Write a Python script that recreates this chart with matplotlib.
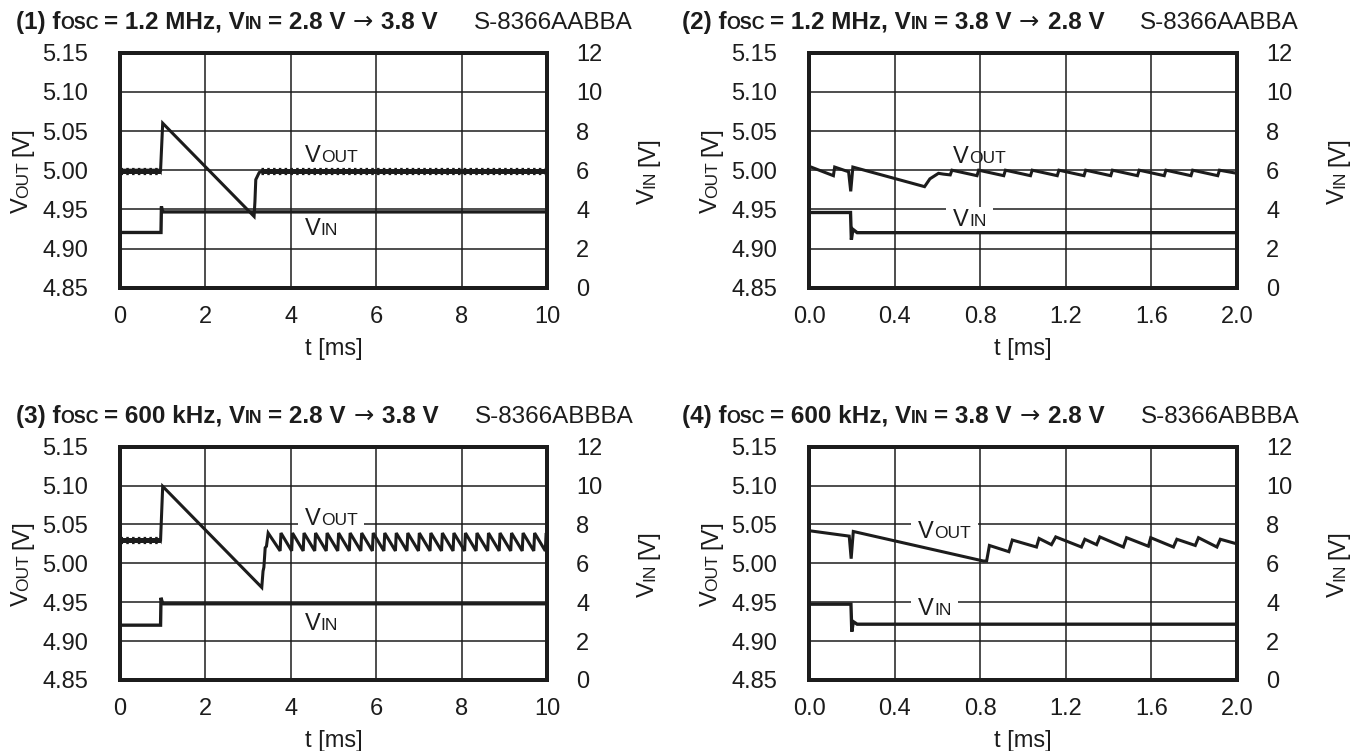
import matplotlib
matplotlib.use("Agg")
import matplotlib.pyplot as plt
from matplotlib import transforms
from matplotlib.patches import Rectangle

plt.rcParams["font.family"] = ["Liberation Sans", "DejaVu Sans"]

panel_no = ["(1)", "(2)", "(3)", "(4)"]
fosc = ["1.2 MHz", "1.2 MHz", "600 kHz", "600 kHz"]
vin_from = ["2.8 V", "3.8 V", "2.8 V", "3.8 V"]
vin_to = ["3.8 V", "2.8 V", "3.8 V", "2.8 V"]
part = ["S-8366AABBA", "S-8366AABBA", "S-8366ABBBA", "S-8366ABBBA"]

t_long = [0, 2, 4, 6, 8, 10]
t_short = [0.0, 0.4, 0.8, 1.2, 1.6, 2.0]
vout_ticks = [4.85, 4.90, 4.95, 5.00, 5.05, 5.10, 5.15]
vin_ticks = [0, 2, 4, 6, 8, 10, 12]

# (1) 1.2 MHz, 2.8 -> 3.8 V, 0..10 ms
t1_vout = [0, 0.95, 1.0, 3.14, 3.16, 3.18, 3.26, 3.33, 10]
v1_vout = [5.000, 5.000, 5.060, 4.941, 4.960, 4.988, 4.997, 4.999, 4.999]
t1_rip = [[0, 0.95], [3.30, 10]]
v1_rip = 4.999
t1_vin = [0, 0.96, 0.97, 0.99, 1.02, 10]
v1_vin = [2.82, 2.82, 4.15, 3.92, 3.87, 3.87]

# (2) 1.2 MHz, 3.8 -> 2.8 V, 0..2 ms
t2_vout = [0, 0.114, 0.120, 0.185, 0.195, 0.205, 0.540, 0.565, 0.605, 0.628,
           0.660, 0.668, 0.785, 0.793, 0.910, 0.918, 1.035, 1.043, 1.160, 1.168,
           1.285, 1.293, 1.410, 1.418, 1.535, 1.543, 1.660, 1.668, 1.785, 1.793,
           1.910, 1.918, 2.0]
v2_vout = [5.005, 4.993, 5.004, 4.998, 4.973, 5.004, 4.979, 4.989, 4.996, 4.995,
           4.994, 5.000, 4.993, 5.000, 4.993, 5.000, 4.993, 5.000, 4.993, 5.000,
           4.993, 5.000, 4.993, 5.000, 4.993, 5.000, 4.993, 5.000, 4.993, 5.000,
           4.993, 5.000, 4.996]
t2_vin = [0, 0.194, 0.198, 0.205, 0.225, 2.0]
v2_vin = [3.84, 3.84, 2.45, 2.98, 2.81, 2.81]

# (3) 600 kHz, 2.8 -> 3.8 V, 0..10 ms
t3_vout = [0, 0.95, 1.0, 3.32, 3.35, 3.37, 3.40, 3.43, 3.47,
           3.75, 3.77, 4.02, 4.04, 4.29, 4.31, 4.56, 4.58, 4.83, 4.85,
           5.10, 5.12, 5.37, 5.39, 5.64, 5.66, 5.91, 5.93, 6.18, 6.20,
           6.45, 6.47, 6.72, 6.74, 6.99, 7.01, 7.26, 7.28, 7.53, 7.55,
           7.80, 7.82, 8.07, 8.09, 8.34, 8.36, 8.61, 8.63, 8.88, 8.90,
           9.15, 9.17, 9.42, 9.44, 9.69, 9.71, 9.96, 9.98, 10]
v3_vout = [5.030, 5.030, 5.099, 4.969, 4.990, 4.995, 5.020, 5.022, 5.039,
           5.016, 5.039, 5.016, 5.039, 5.016, 5.039, 5.016, 5.039, 5.016, 5.039,
           5.016, 5.039, 5.016, 5.039, 5.016, 5.039, 5.016, 5.039, 5.016, 5.039,
           5.016, 5.039, 5.016, 5.039, 5.016, 5.039, 5.016, 5.039, 5.016, 5.039,
           5.016, 5.039, 5.016, 5.039, 5.016, 5.039, 5.016, 5.039, 5.016, 5.039,
           5.016, 5.039, 5.016, 5.039, 5.016, 5.039, 5.016, 5.039, 5.037]
t3_rip = [[0, 0.95]]
v3_rip = 5.030
t3_vin = [0, 0.95, 0.96, 0.99, 1.02, 10]
v3_vin = [2.82, 2.82, 4.23, 4.00, 3.92, 3.92]

# (4) 600 kHz, 3.8 -> 2.8 V, 0..2 ms
t4_vout = [0, 0.188, 0.197, 0.207, 0.815, 0.830, 0.843,
           0.934, 0.950, 1.063, 1.075, 1.133, 1.153, 1.273, 1.289,
           1.344, 1.359, 1.469, 1.484, 1.586, 1.597, 1.703, 1.719,
           1.805, 1.820, 1.906, 1.922, 2.0]
v4_vout = [5.042, 5.035, 5.006, 5.041, 5.003, 5.003, 5.023,
           5.015, 5.030, 5.021, 5.032, 5.024, 5.034, 5.021, 5.031,
           5.024, 5.034, 5.021, 5.033, 5.022, 5.033, 5.021, 5.031,
           5.023, 5.033, 5.021, 5.031, 5.025]
t4_vin = [0, 0.196, 0.200, 0.207, 0.225, 2.0]
v4_vin = [3.90, 3.90, 2.49, 3.00, 2.87, 2.87]

# label anchors (t, Vout) for the in-plot "VOUT"/"VIN" tags
vout_tag = [(4.33, 5.011), (0.674, 5.009), (4.33, 5.049), (0.511, 5.032)]
vin_tag = [(4.33, 4.917), (0.674, 4.929), (4.33, 4.914), (0.511, 4.934)]
vout_box = [False, False, True, True]
vin_box = [False, True, False, True]

W, H = 1351, 751
INK = "#1c1c1c"
FS, FS_SUB = 17, 12.5
FT, FT_SUB = 17.5, 12.8

fig = plt.figure(figsize=(W / 100, H / 100), dpi=100)
renderer = fig.canvas.get_renderer()


def rich(x, y, pieces, trans, rot=0, ha="left"):
    """Draw text pieces of mixed size on one baseline; numbers are gaps in pixels."""
    arts, adv = [], []
    for p in pieces:
        if isinstance(p, (int, float)):
            arts.append(None); adv.append(p)
            continue
        s, fs, bold = p[:3]
        kw = {"family": p[3]} if len(p) > 3 else {}
        t = fig.text(0, 0, s, fontsize=fs, fontweight="bold" if bold else "normal",
                     rotation=rot, rotation_mode="anchor", ha="left", va="baseline",
                     color=INK, zorder=6, **kw)
        bb = t.get_window_extent(renderer)
        arts.append(t); adv.append(bb.height if rot else bb.width)
    off = {"left": 0.0, "center": -sum(adv) / 2}[ha]
    for t, a in zip(arts, adv):
        if t is not None:
            dx, dy = (0, off) if rot else (off, 0)
            t.set_position((x, y))
            t.set_transform(transforms.offset_copy(trans, fig=fig, x=dx, y=dy, units="dots"))
        off += a
    return [t for t in arts if t is not None]


def white_box(ax, texts, padx=7, pady=2):
    bbs = [t.get_window_extent(renderer) for t in texts]
    x0 = min(b.x0 for b in bbs) - padx; x1 = max(b.x1 for b in bbs) + padx
    y0 = min(b.y0 for b in bbs) - pady; y1 = max(b.y1 for b in bbs) + pady
    ax.add_patch(Rectangle((x0, y0), x1 - x0, y1 - y0, transform=transforms.IdentityTransform(),
                           fc="white", ec="none", zorder=1.2, clip_on=False))


ident = transforms.IdentityTransform()
rects = [(120, 52.7, 547, 287.7), (809, 52.7, 1237, 287.7),
         (120, 446.7, 547, 680), (809, 446.7, 1237, 680)]
series = [(t1_vout, v1_vout, t1_vin, v1_vin), (t2_vout, v2_vout, t2_vin, v2_vin),
          (t3_vout, v3_vout, t3_vin, v3_vin), (t4_vout, v4_vout, t4_vin, v4_vin)]
ripples = [(t1_rip, v1_rip), None, (t3_rip, v3_rip), None]

for i, (l, tp, r, b) in enumerate(rects):
    ax = fig.add_axes([l / W, 1 - b / H, (r - l) / W, (b - tp) / H])
    ax2 = ax.twinx()
    long_axis = i in (0, 2)
    xt = t_long if long_axis else t_short
    ax.set_xlim(xt[0], xt[-1])
    ax.set_xticks(xt)
    ax.set_xticklabels([f"{v:d}" if long_axis else f"{v:.1f}" for v in xt])
    ax.set_ylim(vout_ticks[0], vout_ticks[-1])
    ax.set_yticks(vout_ticks)
    ax.set_yticklabels([f"{v:.2f}" for v in vout_ticks])
    ax2.set_ylim(vin_ticks[0], vin_ticks[-1])
    ax2.set_yticks(vin_ticks)
    ax.set_axisbelow(True)
    ax.grid(True, color=INK, lw=1.1)
    ax.tick_params(axis="both", length=0, labelsize=FS, colors=INK)
    ax.tick_params(axis="y", pad=23)
    ax.tick_params(axis="x", pad=13)
    ax2.tick_params(axis="y", length=0, labelsize=FS, pad=21, colors=INK)
    for a in (ax, ax2):
        for sp in a.spines.values():
            sp.set_linewidth(2.8); sp.set_color(INK)

    tv, vv, ti, vi = series[i]
    ax.plot(tv, vv, color=INK, lw=2.2, zorder=2, solid_joinstyle="miter")
    if ripples[i] is not None:
        segs, lvl = ripples[i]
        for a0, a1 in segs:
            ax.plot([a0, a1], [lvl, lvl], color=INK, lw=3.6, zorder=2.1, solid_capstyle="butt")
            ax.plot([a0, a1], [lvl, lvl], color=INK, lw=5.2, zorder=2.1,
                    dashes=(0.35, 0.45), solid_capstyle="butt")
    ax2.plot(ti, vi, color=INK, lw=2.4, zorder=2, solid_joinstyle="miter")

    # in-plot tags
    ot = rich(vout_tag[i][0], vout_tag[i][1], [("V", FS, False), ("OUT", FS_SUB, False)], ax.transData)
    it = rich(vin_tag[i][0], vin_tag[i][1], [("V", FS, False), ("IN", FS_SUB, False)], ax.transData)
    if vout_box[i]:
        white_box(ax, ot)
    if vin_box[i]:
        white_box(ax, it)

    # axis titles
    cy = H - (tp + b) / 2
    rich(l - 92, cy, [("V", FS, False), ("OUT", FS_SUB, False), 5, ("[V]", FS, False)],
         ident, rot=90, ha="center")
    rich(r + 107, cy, [("V", FS, False), ("IN", FS_SUB, False), 5, ("[V]", FS, False)],
         ident, rot=90, ha="center")
    rich((l + r) / 2, H - (b + 67), [("t [ms]", FS, False)], ident, ha="center")

    # panel heading
    x0 = 16 if long_axis else 682
    rich(x0, H - (tp - 24), [(f"{panel_no[i]} f", FT, True), ("OSC", FT_SUB, True), 5,
                              (f"= {fosc[i]}, V", FT, True), ("IN", FT_SUB, True), 5,
                              (f"= {vin_from[i]}", FT, True), 8,
                              ("\u2192", FT, False, "DejaVu Sans"), 8,
                              (vin_to[i], FT, True), 36,
                              (part[i], FT, False)], ident)

fig.savefig("out.png", dpi=100)
